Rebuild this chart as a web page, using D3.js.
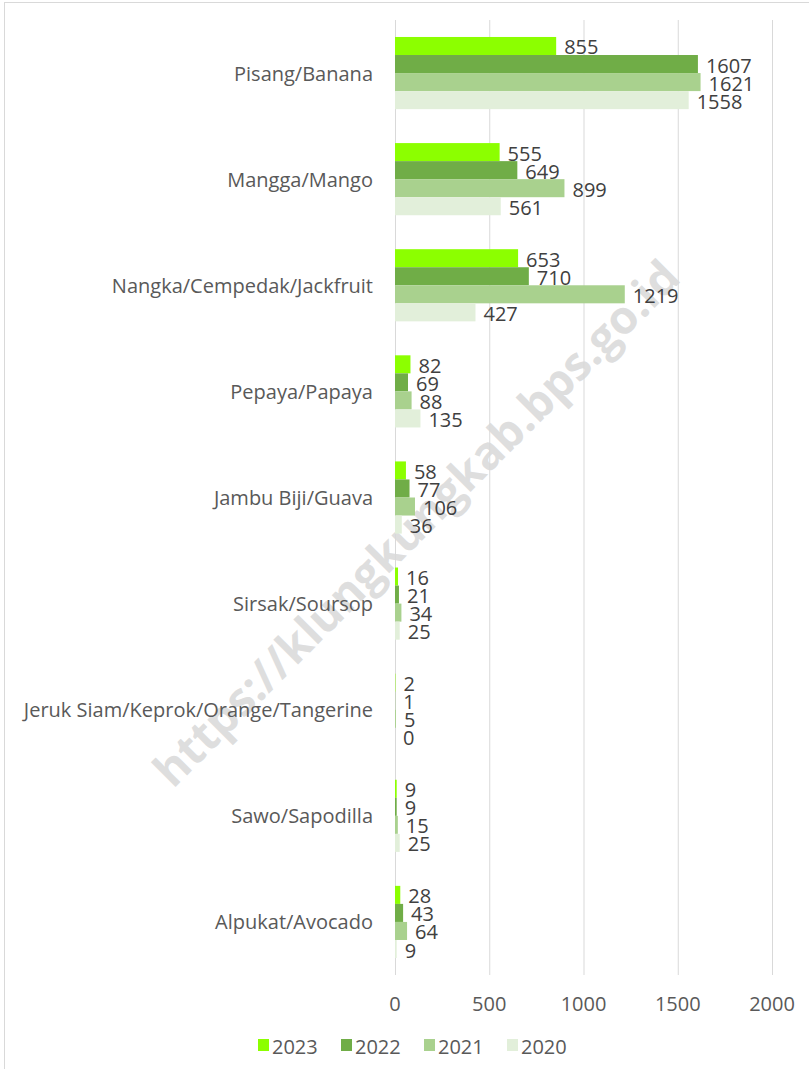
<!DOCTYPE html>
<html>
<head>
<meta charset="utf-8">
<script src="https://cdn.jsdelivr.net/npm/d3@7"></script>
<style>
  body { margin: 0; background: #fff; }
  svg { display: block; font-family: "Open Sans", "Noto Sans", sans-serif; }
</style>
</head>
<body>
<svg id="chart"></svg>
<script>
// fruit production data, one array per year
const categories = [
    "Pisang/Banana", "Mangga/Mango", "Nangka/Cempedak/Jackfruit", "Pepaya/Papaya",
    "Jambu Biji/Guava", "Sirsak/Soursop", "Jeruk Siam/Keprok/Orange/Tangerine",
    "Sawo/Sapodilla", "Alpukat/Avocado"
];
const years = ["2023", "2022", "2021", "2020"];
const values2023 = [855, 555, 653, 82, 58, 16, 2, 9, 28];
const values2022 = [1607, 649, 710, 69, 77, 21, 1, 9, 43];
const values2021 = [1621, 899, 1219, 88, 106, 34, 5, 15, 64];
const values2020 = [1558, 561, 427, 135, 36, 25, 0, 25, 9];
const xTicks = [0, 500, 1000, 1500, 2000];
const colors = ["#8cff00", "#70ad47", "#a9d18e", "#e2efda"];

const seriesValues = [values2023, values2022, values2021, values2020];

const width = 809;
const height = 1069;
const plotLeft = 395, plotRight = 772, plotTop = 20, plotBottom = 975;
const fontSize = "20px";

const svg = d3.select("#chart")
    .attr("width", width)
    .attr("height", height);

// chart border (only left/top visible in the picture)
svg.append("rect")
    .attr("x", 4.5).attr("y", 2.5)
    .attr("width", 900).attr("height", 1200)
    .attr("fill", "none")
    .attr("stroke", "#d9d9d9");

const x = d3.scaleLinear().domain([0, 2000]).range([plotLeft, plotRight]);
const y = d3.scaleBand().domain(categories).range([plotTop, plotBottom]).paddingInner(0.32).paddingOuter(0.16);
const ySub = d3.scaleBand().domain(years).range([0, y.bandwidth()]);

// watermark (behind the marks)
svg.append("text")
    .attr("transform", "translate(415,522) rotate(-45)")
    .attr("text-anchor", "middle")
    .attr("dominant-baseline", "central")
    .style("font-size", "46px")
    .style("font-weight", "bold")
    .style("fill", "#c8c8c8")
    .style("fill-opacity", 0.6)
    .text("https://klungkungkab.bps.go.id");

// gridlines
svg.append("g")
    .selectAll("line")
    .data(xTicks)
    .join("line")
    .attr("x1", d => x(d) + 0.5).attr("x2", d => x(d) + 0.5)
    .attr("y1", plotTop).attr("y2", plotBottom)
    .attr("stroke", "#d9d9d9")
    .attr("stroke-width", 1);

// x tick labels
svg.append("g")
    .selectAll("text")
    .data(xTicks)
    .join("text")
    .attr("x", d => x(d))
    .attr("y", 1003)
    .attr("text-anchor", "middle")
    .attr("dominant-baseline", "central")
    .style("font-size", fontSize)
    .style("fill", "#595959")
    .text(d => d);

// category labels
svg.append("g")
    .selectAll("text")
    .data(categories)
    .join("text")
    .attr("x", 373)
    .attr("y", d => y(d) + y.bandwidth() / 2)
    .attr("text-anchor", "end")
    .attr("dominant-baseline", "central")
    .style("font-size", fontSize)
    .style("fill", "#595959")
    .text(d => d);

const rows = [];
categories.forEach((c, i) => {
    years.forEach((yr, j) => {
        rows.push({ cat: c, year: yr, value: seriesValues[j][i], color: colors[j] });
    });
});

// bars
svg.append("g")
    .selectAll("rect")
    .data(rows)
    .join("rect")
    .attr("x", x(0))
    .attr("y", d => y(d.cat) + ySub(d.year))
    .attr("width", d => x(d.value) - x(0))
    .attr("height", ySub.bandwidth())
    .attr("fill", d => d.color);

// value labels
svg.append("g")
    .selectAll("text")
    .data(rows)
    .join("text")
    .attr("x", d => x(d.value) + 8)
    .attr("y", d => y(d.cat) + ySub(d.year) + ySub.bandwidth() / 2 + 1)
    .attr("dominant-baseline", "central")
    .style("font-size", fontSize)
    .style("fill", "#404040")
    .text(d => d.value);

// legend
const legend = svg.append("g")
    .selectAll("g")
    .data(years)
    .join("g")
    .attr("transform", (d, i) => `translate(${258 + i * 83}, 1045)`);

legend.append("rect")
    .attr("x", 0).attr("y", -6)
    .attr("width", 11).attr("height", 12)
    .attr("fill", (d, i) => colors[i]);

legend.append("text")
    .attr("x", 14)
    .attr("y", 1)
    .attr("dominant-baseline", "central")
    .style("font-size", fontSize)
    .style("fill", "#595959")
    .text(d => d);
</script>
</body>
</html>
